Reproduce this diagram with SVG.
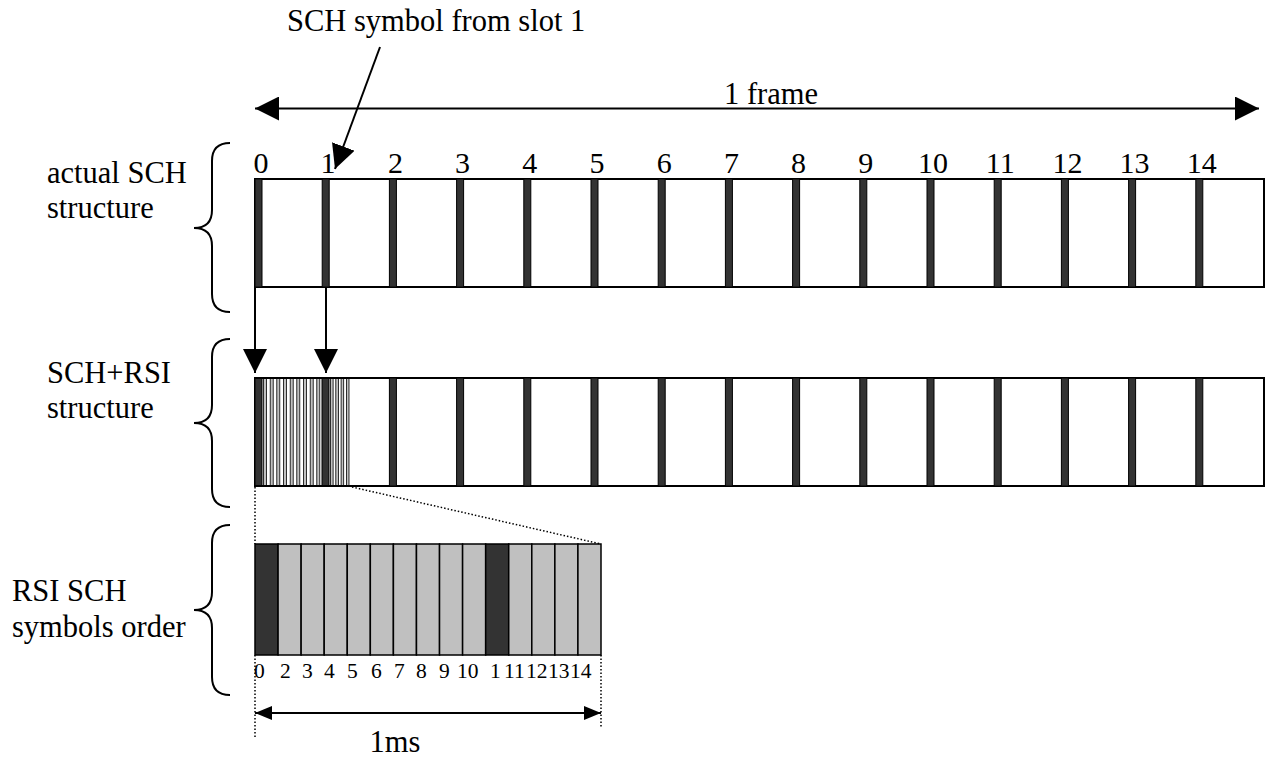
<svg xmlns="http://www.w3.org/2000/svg" width="1270" height="758" viewBox="0 0 1270 758">
<defs>
<style>
text{font-family:"Liberation Serif","Times New Roman",serif;fill:#000}
.t{font-size:30.5px}
.n{font-size:30px;text-anchor:middle}
.s{font-size:21.5px}
.frame{fill:#fff;stroke:#000;stroke-width:2}
.bar{fill:#333;stroke:#000;stroke-width:1}
.lt{fill:#c0c0c0;stroke:#000;stroke-width:1.5}
.st{fill:#c0c0c0;stroke:#000;stroke-width:0.8}
.dk{fill:#333;stroke:#000;stroke-width:1.5}
.ln{stroke:#000;stroke-width:2;fill:none}
.dot{stroke:#000;stroke-width:1.5;stroke-dasharray:1.5 2;fill:none}
.brace{stroke:#000;stroke-width:2;fill:none}
</style>
<marker id="ah" markerUnits="userSpaceOnUse" markerWidth="24" markerHeight="24" refX="24" refY="12" orient="auto-start-reverse"><path d="M0,0 L24,12 L0,24 z" fill="#000"/></marker>
<marker id="ahs" markerUnits="userSpaceOnUse" markerWidth="17" markerHeight="14" refX="17" refY="7" orient="auto-start-reverse"><path d="M0,0 L17,7 L0,14 z" fill="#000"/></marker>
</defs>

<g id="labels">
<text class="t" x="287" y="31">SCH symbol from slot 1</text>
<text class="t" x="771" y="104" text-anchor="middle">1 frame</text>
<text class="t" x="47" y="183">actual SCH</text>
<text class="t" x="47" y="218">structure</text>
<text class="t" x="47" y="383">SCH+RSI</text>
<text class="t" x="47" y="418">structure</text>
<text class="t" x="12" y="601">RSI SCH</text>
<text class="t" x="12" y="637">symbols order</text>
<text class="t" x="395" y="752" text-anchor="middle">1ms</text>
</g>

<g id="braces">
<path class="brace" d="M230,143 Q212,143 212,161 L212,210 Q212,228 194,228 Q212,228 212,246 L212,294 Q212,312 230,312"/>
<path class="brace" d="M230,339 Q212,339 212,357 L212,405 Q212,423 194,423 Q212,423 212,441 L212,489 Q212,507 230,507"/>
<path class="brace" d="M230,525 Q212,525 212,543 L212,592 Q212,610 194,610 Q212,610 212,628 L212,677 Q212,695 230,695"/>
</g>

<g id="row1">
<rect class="frame" x="255" y="179" width="1009" height="108"/>
<rect class="bar" x="255" y="179" width="7" height="108"/>
<rect class="bar" x="322.2" y="179" width="7" height="108"/>
<rect class="bar" x="389.4" y="179" width="7" height="108"/>
<rect class="bar" x="456.6" y="179" width="7" height="108"/>
<rect class="bar" x="523.8" y="179" width="7" height="108"/>
<rect class="bar" x="591" y="179" width="7" height="108"/>
<rect class="bar" x="658.2" y="179" width="7" height="108"/>
<rect class="bar" x="725.4" y="179" width="7" height="108"/>
<rect class="bar" x="792.6" y="179" width="7" height="108"/>
<rect class="bar" x="859.8" y="179" width="7" height="108"/>
<rect class="bar" x="927" y="179" width="7" height="108"/>
<rect class="bar" x="994.2" y="179" width="7" height="108"/>
<rect class="bar" x="1061.4" y="179" width="7" height="108"/>
<rect class="bar" x="1128.6" y="179" width="7" height="108"/>
<rect class="bar" x="1195.8" y="179" width="7" height="108"/>
<text class="n" x="261" y="173">0</text>
<text class="n" x="328" y="173">1</text>
<text class="n" x="395.4" y="173">2</text>
<text class="n" x="462.6" y="173">3</text>
<text class="n" x="529.8" y="173">4</text>
<text class="n" x="597" y="173">5</text>
<text class="n" x="664.2" y="173">6</text>
<text class="n" x="731.4" y="173">7</text>
<text class="n" x="798.6" y="173">8</text>
<text class="n" x="865.8" y="173">9</text>
<text class="n" x="933" y="173">10</text>
<text class="n" x="1000.2" y="173">11</text>
<text class="n" x="1067.4" y="173">12</text>
<text class="n" x="1134.6" y="173">13</text>
<text class="n" x="1201.8" y="173">14</text>
</g>

<g id="row2">
<rect class="frame" x="255" y="378" width="1009" height="108"/>
<rect class="st" x="263.5" y="378" width="3" height="108"/>
<rect class="st" x="270.2" y="378" width="3" height="108"/>
<rect class="st" x="276.8" y="378" width="3" height="108"/>
<rect class="st" x="283.5" y="378" width="3" height="108"/>
<rect class="st" x="290.2" y="378" width="3" height="108"/>
<rect class="st" x="296.8" y="378" width="3" height="108"/>
<rect class="st" x="303.5" y="378" width="3" height="108"/>
<rect class="st" x="310.2" y="378" width="3" height="108"/>
<rect class="st" x="316.8" y="378" width="3" height="108"/>
<rect class="st" x="330.5" y="378" width="2.6" height="108"/>
<rect class="st" x="335.8" y="378" width="2.6" height="108"/>
<rect class="st" x="341.1" y="378" width="2.6" height="108"/>
<rect class="st" x="346.4" y="378" width="2.6" height="108"/>
<rect class="bar" x="255" y="378" width="7" height="108"/>
<rect class="bar" x="322" y="378" width="7" height="108"/>
<line class="ln" x1="255" y1="378" x2="1264" y2="378"/>
<line class="ln" x1="255" y1="486" x2="1264" y2="486"/>
<rect class="bar" x="389.4" y="378" width="7" height="108"/>
<rect class="bar" x="456.6" y="378" width="7" height="108"/>
<rect class="bar" x="523.8" y="378" width="7" height="108"/>
<rect class="bar" x="591" y="378" width="7" height="108"/>
<rect class="bar" x="658.2" y="378" width="7" height="108"/>
<rect class="bar" x="725.4" y="378" width="7" height="108"/>
<rect class="bar" x="792.6" y="378" width="7" height="108"/>
<rect class="bar" x="859.8" y="378" width="7" height="108"/>
<rect class="bar" x="927" y="378" width="7" height="108"/>
<rect class="bar" x="994.2" y="378" width="7" height="108"/>
<rect class="bar" x="1061.4" y="378" width="7" height="108"/>
<rect class="bar" x="1128.6" y="378" width="7" height="108"/>
<rect class="bar" x="1195.8" y="378" width="7" height="108"/>
</g>

<g id="row3">
<rect class="dk" x="255" y="544" width="23.07" height="111"/>
<rect class="lt" x="278.07" y="544" width="23.07" height="111"/>
<rect class="lt" x="301.13" y="544" width="23.07" height="111"/>
<rect class="lt" x="324.2" y="544" width="23.07" height="111"/>
<rect class="lt" x="347.27" y="544" width="23.07" height="111"/>
<rect class="lt" x="370.33" y="544" width="23.07" height="111"/>
<rect class="lt" x="393.4" y="544" width="23.07" height="111"/>
<rect class="lt" x="416.47" y="544" width="23.07" height="111"/>
<rect class="lt" x="439.53" y="544" width="23.07" height="111"/>
<rect class="lt" x="462.6" y="544" width="23.07" height="111"/>
<rect class="dk" x="485.67" y="544" width="23.07" height="111"/>
<rect class="lt" x="508.73" y="544" width="23.07" height="111"/>
<rect class="lt" x="531.8" y="544" width="23.07" height="111"/>
<rect class="lt" x="554.87" y="544" width="23.07" height="111"/>
<rect class="lt" x="577.93" y="544" width="23.07" height="111"/>
<text class="s" x="254" y="678">0</text>
<text class="s" x="280" y="678">2</text>
<text class="s" x="302" y="678">3</text>
<text class="s" x="324" y="678">4</text>
<text class="s" x="347" y="678">5</text>
<text class="s" x="371" y="678">6</text>
<text class="s" x="394" y="678">7</text>
<text class="s" x="416" y="678">8</text>
<text class="s" x="439" y="678">9</text>
<text class="s" x="457" y="678">10</text>
<text class="s" x="490" y="678">1</text>
<text class="s" x="504" y="678">11</text>
<text class="s" x="526" y="678">12</text>
<text class="s" x="548" y="678">13</text>
<text class="s" x="570" y="678">14</text>
</g>

<g id="connectors">
<line class="ln" x1="255" y1="108.5" x2="1259" y2="108.5" marker-start="url(#ah)" marker-end="url(#ah)"/>
<line class="ln" x1="380" y1="47" x2="335" y2="169" marker-end="url(#ah)"/>
<line class="ln" x1="255" y1="287" x2="255" y2="373" marker-end="url(#ah)"/>
<line class="ln" x1="326" y1="287" x2="326" y2="373" marker-end="url(#ah)"/>
<line class="dot" x1="255" y1="487" x2="255" y2="544"/>
<line class="dot" x1="352" y1="487" x2="601" y2="544"/>
<line class="dot" x1="255" y1="655" x2="255" y2="737"/>
<line class="dot" x1="601" y1="655" x2="601" y2="728"/>
<line class="ln" x1="255" y1="713" x2="601" y2="713" marker-start="url(#ahs)" marker-end="url(#ahs)"/>
</g>
</svg>
